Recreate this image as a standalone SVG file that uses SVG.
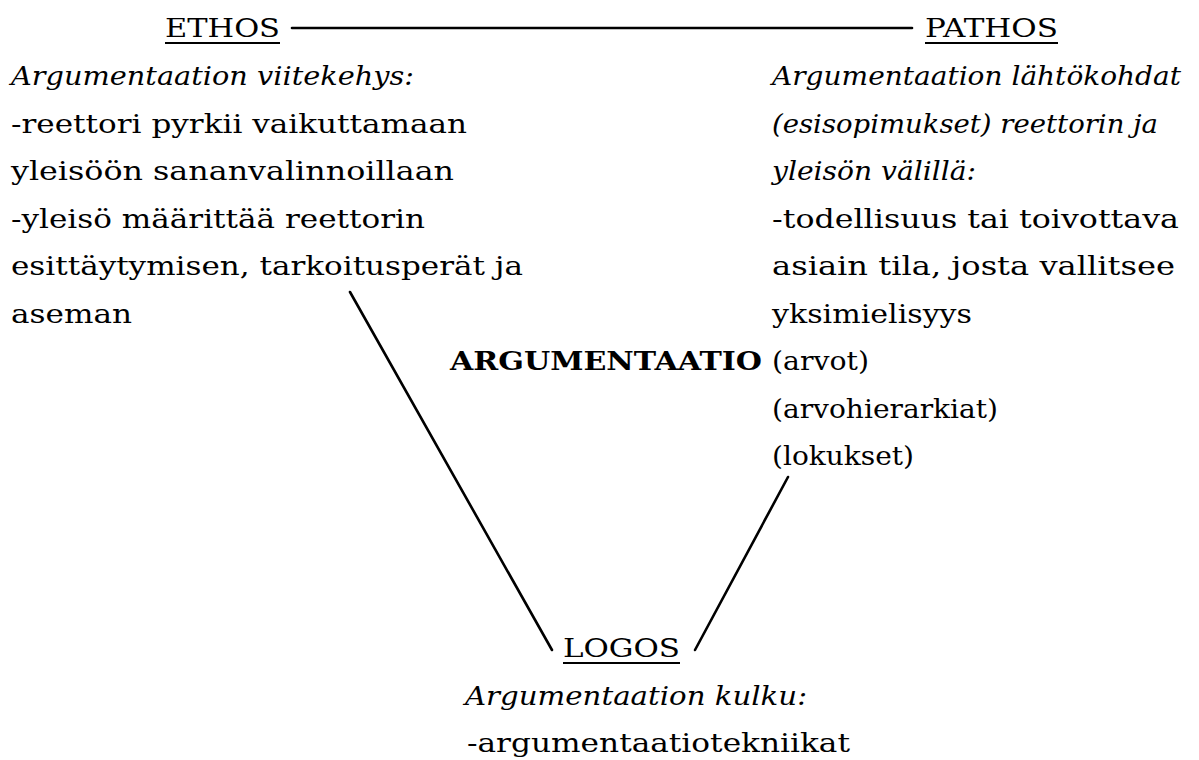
<svg xmlns="http://www.w3.org/2000/svg" width="1199" height="760" viewBox="0 0 1199 760">
<style>
text{font-family:"DejaVu Serif","Liberation Serif",serif;font-size:26px;fill:#000}
.it{font-style:italic}
.b{font-weight:bold}
.ul{stroke:#000;stroke-width:2}
.con line{stroke:#000;stroke-width:2.6;stroke-linecap:round}
</style>
<rect width="1199" height="760" fill="#fff"/>
<g id="ethos">
<text x="165" y="37" textLength="115" lengthAdjust="spacingAndGlyphs">ETHOS</text>
<line class="ul" x1="165" y1="43" x2="280" y2="43"/>
<text class="it" x="11" y="85" textLength="403" lengthAdjust="spacingAndGlyphs">Argumentaation viitekehys:</text>
<text x="11" y="132.5" textLength="456" lengthAdjust="spacingAndGlyphs">-reettori pyrkii vaikuttamaan</text>
<text x="11" y="180" textLength="443" lengthAdjust="spacingAndGlyphs">yleisöön sananvalinnoillaan</text>
<text x="11" y="227.5" textLength="414" lengthAdjust="spacingAndGlyphs">-yleisö määrittää reettorin</text>
<text x="11" y="275" textLength="512" lengthAdjust="spacingAndGlyphs">esittäytymisen, tarkoitusperät ja</text>
<text x="11" y="322.5" textLength="121" lengthAdjust="spacingAndGlyphs">aseman</text>
</g>
<g id="pathos">
<text x="925" y="37" textLength="133" lengthAdjust="spacingAndGlyphs">PATHOS</text>
<line class="ul" x1="925" y1="43" x2="1058" y2="43"/>
<text class="it" x="772" y="85" textLength="409" lengthAdjust="spacingAndGlyphs">Argumentaation lähtökohdat</text>
<text class="it" x="772" y="132.5" textLength="386" lengthAdjust="spacingAndGlyphs">(esisopimukset) reettorin ja</text>
<text class="it" x="772" y="180" textLength="204" lengthAdjust="spacingAndGlyphs">yleisön välillä:</text>
<text x="772" y="227.5" textLength="407" lengthAdjust="spacingAndGlyphs">-todellisuus tai toivottava</text>
<text x="772" y="275" textLength="403" lengthAdjust="spacingAndGlyphs">asiain tila, josta vallitsee</text>
<text x="772" y="322.5" textLength="200" lengthAdjust="spacingAndGlyphs">yksimielisyys</text>
<text x="772" y="370" textLength="97" lengthAdjust="spacingAndGlyphs">(arvot)</text>
<text x="772" y="417.5" textLength="226" lengthAdjust="spacingAndGlyphs">(arvohierarkiat)</text>
<text x="772" y="465" textLength="142" lengthAdjust="spacingAndGlyphs">(lokukset)</text>
</g>
<g id="argumentaatio">
<text class="b" x="450" y="370" textLength="312" lengthAdjust="spacingAndGlyphs">ARGUMENTAATIO</text>
</g>
<g id="logos">
<text x="563" y="657" textLength="117" lengthAdjust="spacingAndGlyphs">LOGOS</text>
<line class="ul" x1="563" y1="663" x2="680" y2="663"/>
<text class="it" x="465" y="705" textLength="342" lengthAdjust="spacingAndGlyphs">Argumentaation kulku:</text>
<text x="467" y="752" textLength="383" lengthAdjust="spacingAndGlyphs">-argumentaatiotekniikat</text>
</g>
<g id="connectors" class="con">
<line x1="292" y1="28" x2="912" y2="28"/>
<line x1="350" y1="292" x2="552" y2="650"/>
<line x1="788" y1="477" x2="695" y2="650"/>
</g>
</svg>
